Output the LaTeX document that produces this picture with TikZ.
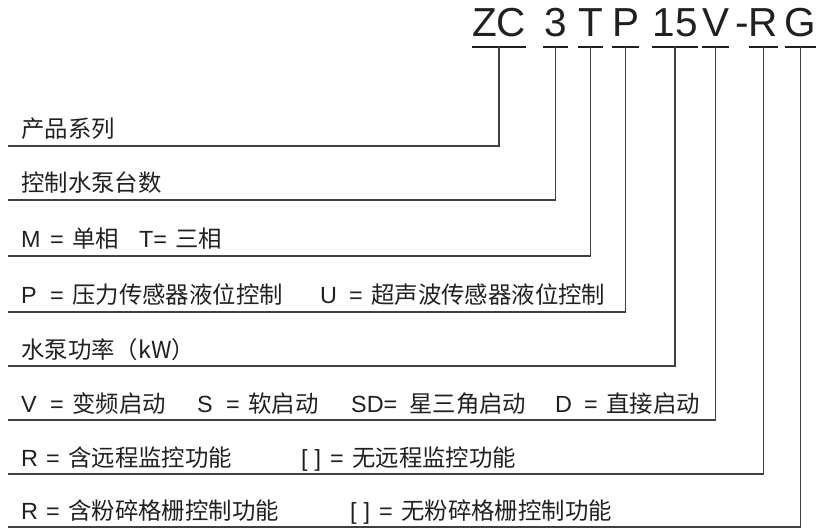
\documentclass[tikz,border=0pt]{standalone}
\usepackage{fontspec}
\setmainfont{Liberation Sans}
\newfontfamily\cjk{Noto Sans CJK SC}
\definecolor{inkline}{HTML}{404040}
\definecolor{inktext}{HTML}{231F20}
% letter, "=" and meaning
\newcommand\kv[3][29pt]{\makebox[#1][l]{#2}=\hspace{8.5pt}{\cjk #3}}

\begin{document}
\begin{tikzpicture}[x=1pt,y=-1pt,
    code/.style={font=\fontsize{40.5}{44}\selectfont,text=inktext,inner sep=0pt,text depth=10pt,anchor=base},
    uline/.style={line width=2pt,draw=inktext},
    lead/.style={line width=1.2pt,draw=inkline},
    lab/.style={font=\fontsize{23.4}{26}\selectfont,text=inktext,inner sep=0pt,anchor=base west}]
    \useasboundingbox (0,0) rectangle (819,529);
    % model code
    \node[code,minimum width=48pt] (zc)  at (499,37)   {ZC};
    \node[code,minimum width=25pt] (n3)  at (555.5,37) {3};
    \node[code,minimum width=25pt] (t)   at (590.5,37) {T};
    \node[code,minimum width=25pt] (p)   at (625.5,37) {P};
    \node[code,minimum width=36pt] (n15) at (675,37)   {15};
    \node[code,minimum width=23pt] (v)   at (715.5,37) {V};
    \node[code]                    (dash) at (742,37)  {-};
    \node[code,minimum width=23pt] (r)   at (763.5,37) {R};
    \node[code,minimum width=27pt] (g)   at (800.5,37) {G};
    \foreach \c in {zc,n3,t,p,n15,v,r,g}
      \draw[uline] (\c.south west) -- (\c.south east);
    %
    \coordinate (e1) at (8,146);
    \coordinate (e2) at (8,200);
    \coordinate (e3) at (8,256);
    \coordinate (e4) at (8,312);
    \coordinate (e5) at (8,366);
    \coordinate (e6) at (8,420);
    \coordinate (e7) at (8,474);
    \coordinate (e8) at (8,527);
    %
    \node[lab] (l1) at ([shift={(13,-8)}]e1) {{\cjk 产品系列}};
    \node[lab] (l2) at ([shift={(13,-8)}]e2) {{\cjk 控制水泵台数}};
    \node[lab] (l3) at ([shift={(13,-8)}]e3)
      {\makebox[118pt][l]{\kv{M}{单相}}T=\hspace{8pt}{\cjk 三相}};
    \node[lab] (l4) at ([shift={(13,-8)}]e4)
      {\makebox[299pt][l]{\kv{P}{压力传感器液位控制}}\kv{U}{超声波传感器液位控制}};
    \node[lab] (l5) at ([shift={(13,-8)}]e5) {{\cjk 水泵功率（kW）}};
    \node[lab] (l6) at ([shift={(13,-8)}]e6)
      {\makebox[176pt][l]{\kv{V}{变频启动}}\makebox[154pt][l]{\kv{S}{软启动}}%
       \makebox[204pt][l]{SD=\hspace{12pt}{\cjk 星三角启动}}\kv{D}{直接启动}};
    \node[lab] (l7) at ([shift={(13,-8)}]e7)
      {\makebox[280pt][l]{\kv[25pt]{R}{含远程监控功能}}\kv{[\hspace{7pt}]}{无远程监控功能}};
    \node[lab] (l8) at ([shift={(13,-8)}]e8)
      {\makebox[329pt][l]{\kv[25pt]{R}{含粉碎格栅控制功能}}\kv{[\hspace{7pt}]}{无粉碎格栅控制功能}};
    %
    \draw[lead] (zc.south)  |- (e1);
    \draw[lead] (n3.south)  |- (e2);
    \draw[lead] (t.south)   |- (e3);
    \draw[lead] (p.south)   |- (e4);
    \draw[lead] (n15.south) |- (e5);
    \draw[lead] (v.south)   |- (e6);
    \draw[lead] (r.south)   |- (e7);
    \draw[lead] (g.south)   |- (e8);
\end{tikzpicture}
\end{document}
